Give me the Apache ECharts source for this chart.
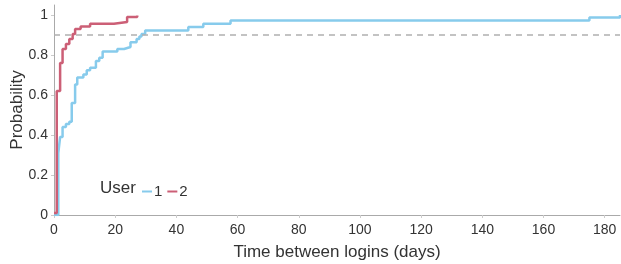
<!DOCTYPE html>
<html>
<head>
<meta charset="utf-8">
<script src="https://cdn.jsdelivr.net/npm/echarts@6/dist/echarts.min.js"></script>
<style>
  html, body { margin: 0; padding: 0; background: #fff; }
  #chart { width: 621px; height: 264px; }
</style>
</head>
<body>
<div id="chart"></div>
<script>
// ECDF of time between logins, one step line per user
const user1Days = [0, 1.4, 2, 2.8, 3.9, 5, 5.8, 6.9, 7.6, 9.6, 10.7, 11.8, 13.7, 14.8, 15.9, 20.7, 22.9, 25, 27, 27.9, 28.6, 29.8, 43.9, 48.8, 57.7, 175, 185];
const user1Prob = [0, 0.31, 0.39, 0.44, 0.455, 0.466, 0.56, 0.653, 0.687, 0.703, 0.724, 0.736, 0.77, 0.786, 0.817, 0.83, 0.84, 0.864, 0.88, 0.893, 0.905, 0.923, 0.94, 0.956, 0.972, 0.988, 1.0];
const user2Days = [0, 0.9, 2, 2.8, 3.9, 5, 6.1, 6.9, 8.7, 11.8, 19.6, 23.9, 27.2];
const user2Prob = [0.01, 0.62, 0.76, 0.83, 0.855, 0.88, 0.905, 0.93, 0.943, 0.956, 0.965, 0.99, 0.997];
const threshold = 0.9;

const font = 'Liberation Sans, Arial, sans-serif';
const chart = echarts.init(document.getElementById('chart'));

chart.setOption({
  animation: false,
  grid: { left: 54, right: 1, top: 5, bottom: 49, outerBoundsMode: 'none' },
  legend: {
    left: 137,
    top: 179,
    icon: 'rect',
    itemWidth: 10,
    itemHeight: 2,
    itemGap: 5,
    textStyle: { fontFamily: font, fontSize: 15, color: '#333', padding: [0, 0, 0, -3] },
    data: ['1', '2'],
  },
  graphic: [{
    type: 'text',
    left: 100,
    top: 180,
    style: { text: 'User', font: '17px ' + font, fill: '#333' },
  }],
  xAxis: {
    type: 'value',
    min: 0,
    max: 185,
    interval: 20,
    name: 'Time between logins (days)',
    nameLocation: 'middle',
    nameGap: 29,
    nameTextStyle: { fontFamily: font, fontSize: 17, color: '#333' },
    axisLine: { lineStyle: { color: '#aaa' } },
    axisTick: { show: true, length: 3, lineStyle: { color: '#ccc' } },
    axisLabel: { fontFamily: font, fontSize: 14, color: '#333', showMaxLabel: false },
    splitLine: { show: false },
  },
  yAxis: {
    type: 'value',
    min: 0,
    max: 1.05,
    interval: 0.2,
    name: 'Probability',
    nameLocation: 'middle',
    nameGap: 28,
    nameMoveOverlap: false,
    nameTextStyle: { fontFamily: font, fontSize: 17, color: '#333' },
    axisLine: { show: true, lineStyle: { color: '#aaa' } },
    axisTick: { show: true, length: 3, lineStyle: { color: '#ccc' } },
    axisLabel: {
      fontFamily: font, fontSize: 14, color: '#333', margin: 6,
      formatter: v => (v === 0 ? '0' : v === 1 ? '1' : String(Math.round(v * 10) / 10)),
    },
    splitLine: { show: false },
  },
  series: [
    {
      name: '1',
      type: 'line',
      step: 'end',
      symbol: 'none',
      color: '#87cbec',
      lineStyle: { width: 2.5 },
      data: user1Days.map((d, i) => [d, user1Prob[i]]),
      z: 3,
    },
    {
      name: '2',
      type: 'line',
      step: 'end',
      symbol: 'none',
      color: '#cc5f76',
      lineStyle: { width: 2.5 },
      data: user2Days.map((d, i) => [d, user2Prob[i]]),
      z: 4,
      markLine: {
        silent: true,
        symbol: 'none',
        label: { show: false },
        lineStyle: { color: '#b0b0b0', type: [6, 5], width: 1.5 },
        data: [{ yAxis: threshold }],
      },
    },
  ],
});
</script>
</body>
</html>
